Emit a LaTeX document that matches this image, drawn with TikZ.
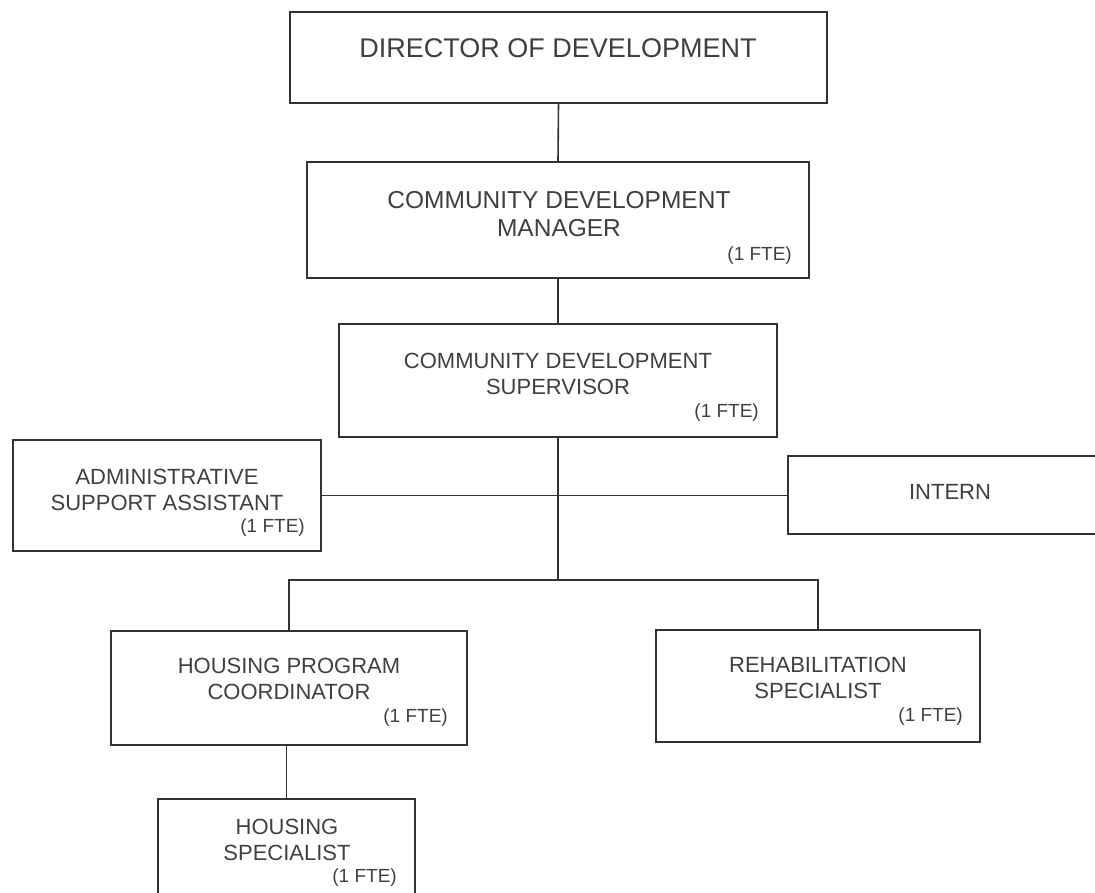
\documentclass[tikz,border=0pt]{standalone}
\usepackage{fontspec}
\setmainfont{Liberation Sans}
\usepackage{xcolor}
\usepackage{tikz}
\usetikzlibrary{positioning,calc}

\definecolor{ink}{gray}{0.2}
\definecolor{letters}{gray}{0.25}

\begin{document}
\begin{tikzpicture}[x=1pt,y=-1pt,
		orgbox/.style={draw=ink,line width=1.6pt,rectangle,inner sep=0pt},
		title/.style={text=letters,align=center,inner sep=0pt,font=\fontsize{22}{26}\selectfont},
		fte/.style={text=letters,anchor=east,inner sep=0pt,font=\fontsize{19}{22}\selectfont},
		link/.style={draw=ink,line width=1.6pt}]
			\clip (0,0) rectangle (1095,893);
			\fill[white] (0,0) rectangle (1095,893);
			
			% boxes
			\node[orgbox,minimum width=537pt,minimum height=91pt] (dir) at (558.5,57.5) {};
			\node[orgbox,minimum width=502pt,minimum height=116pt] (mgr) at (558,220) {};
			\node[orgbox,minimum width=438pt,minimum height=113pt] (sup) at (558,380.5) {};
			\node[orgbox,minimum width=308pt,minimum height=111pt] (adm) at (167,495.5) {};
			\node[orgbox,minimum width=324pt,minimum height=78pt] (int) at (950,495) {};
			\node[orgbox,minimum width=356pt,minimum height=114pt] (hpc) at (289,688) {};
			\node[orgbox,minimum width=324pt,minimum height=112pt] (reh) at (818,686) {};
			\node[orgbox,minimum width=257pt,minimum height=110pt] (hsp) at (286.5,854) {};
			
			% texts
			\node[title,font=\fontsize{27}{30}\selectfont] (dirtxt) at (558,48) {DIRECTOR OF DEVELOPMENT};
			\node[title,font=\fontsize{24.5}{28}\selectfont] (mgrtxt) at (559,214) {COMMUNITY DEVELOPMENT\\MANAGER};
			\node[title] (suptxt) at (558,373.5) {COMMUNITY DEVELOPMENT\\SUPERVISOR};
			\node[title] (admtxt) at (167,490) {ADMINISTRATIVE\\SUPPORT ASSISTANT};
			\node[title] (inttxt) at (950,492) {INTERN};
			\node[title] (hpctxt) at (289,679) {HOUSING PROGRAM\\COORDINATOR};
			\node[title] (rehtxt) at (818,678) {REHABILITATION\\SPECIALIST};
			\node[title] (hsptxt) at (287,839.5) {HOUSING\\SPECIALIST};
			
			\node[fte] (mgrfte) at (792,256) {(1 FTE)};
			\node[fte] (supfte) at (759,413) {(1 FTE)};
			\node[fte] (admfte) at (305,528) {(1 FTE)};
			\node[fte] (hpcfte) at (448,718) {(1 FTE)};
			\node[fte] (rehfte) at (963,717) {(1 FTE)};
			\node[fte] (hspfte) at (397,878) {(1 FTE)};
			
			% lines
			\coordinate (bus) at (558,580);
			\draw[link] (dir.south) -- (mgr.north);
			\draw[link] (mgr.south) -- (sup.north);
			\draw[link] (sup.south) -- (bus);
			\draw[link] (adm.east) -- (adm.east -| int.west);
			\draw[link] (bus) -| (hpc.north);
			\draw[link] (bus) -| (reh.north);
			\draw[link] (hsp.north |- hpc.south) -- (hsp.north);
		\end{tikzpicture}
\end{document}
